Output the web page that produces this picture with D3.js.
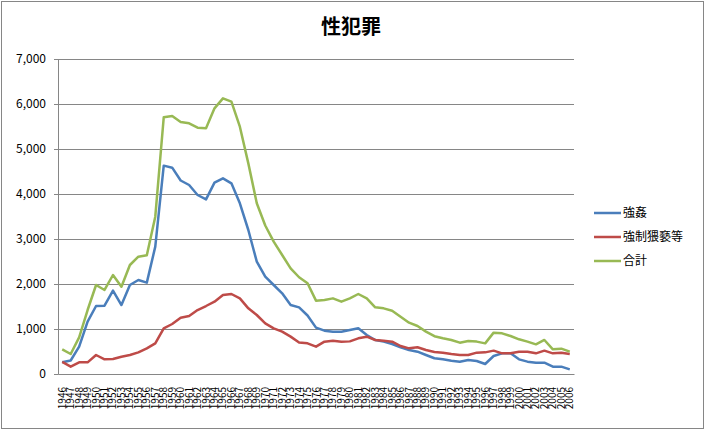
<!DOCTYPE html>
<html><head><meta charset="utf-8">
<script src="https://cdn.jsdelivr.net/npm/d3@7"></script>
<style>body{margin:0;background:#fff}svg{display:block}text{font-family:"Noto Sans CJK JP","DejaVu Sans",sans-serif}</style>
</head><body><svg id="c" width="706" height="431"></svg>
<script>
const years = d3.range(1946, 2007).map(String);
const rape = [260,300,607,1163,1511,1518,1852,1533,1978,2089,2030,2830,4630,4585,4300,4200,3978,3881,4252,4348,4237,3793,3200,2496,2163,1978,1793,1533,1480,1300,1030,963,941,941,978,1015,867,756,719,667,593,533,496,422,350,326,296,274,311,289,222,400,459,459,326,274,252,252,163,163,104];
const indecent = [270,163,259,259,422,326,333,385,422,481,570,681,1015,1111,1250,1289,1422,1511,1607,1756,1778,1681,1459,1311,1126,1015,941,830,700,681,607,719,740,719,725,793,830,756,740,719,622,570,593,533,490,474,444,422,422,474,481,519,459,459,496,496,459,519,459,474,444];
const total = [548,444,815,1422,1978,1867,2200,1940,2422,2607,2637,3496,5704,5733,5600,5570,5474,5460,5904,6126,6052,5496,4681,3793,3300,2941,2644,2348,2150,2015,1630,1644,1681,1607,1681,1778,1681,1481,1459,1407,1274,1141,1067,941,840,793,756,696,733,720,681,919,904,844,771,720,659,756,548,563,496];
const yTicks = [0,1000,2000,3000,4000,5000,6000,7000];
const seriesNames = ["強姦","強制猥褻等","合計"];
const colors = ["#4A7EBB","#BE4B48","#98B954"];
const seriesData = [rape, indecent, total];

const svg = d3.select("#c");
svg.append("rect").attr("x",1.5).attr("y",1.5).attr("width",702).attr("height",427)
  .attr("fill","#fff").attr("stroke","#868686").attr("stroke-width",1);

const L=58, R=574, T=59, B=374;
const x = d3.scaleBand().domain(years).range([L,R]);
const y = d3.scaleLinear().domain([0,7000]).range([B,T]);

svg.append("text").attr("x",351).attr("y",34).attr("text-anchor","middle")
  .attr("font-size",20).attr("font-weight","bold").text("性犯罪");

const grid = svg.append("g");
grid.selectAll("line").data(yTicks.slice(1)).join("line")
  .attr("x1",L).attr("x2",R).attr("y1",d=>Math.round(y(d))+0.5).attr("y2",d=>Math.round(y(d))+0.5)
  .attr("stroke","#868686").attr("stroke-width",1);

const ya = svg.append("g").attr("transform",`translate(${L},0)`)
  .call(d3.axisLeft(y).tickValues(yTicks).tickFormat(d3.format(",")).tickSize(4).tickPadding(8));
ya.select(".domain").attr("stroke","#868686");
ya.selectAll(".tick line").attr("stroke","#868686");
ya.selectAll("text").attr("font-size",12).attr("fill","#000").attr("font-family","DejaVu Sans, sans-serif");

const xa = svg.append("g").attr("transform",`translate(0,${B})`)
  .call(d3.axisBottom(x).tickSize(0).tickPadding(0));
xa.select(".domain").attr("stroke","#868686");
xa.selectAll(".tick text").attr("font-size",10).attr("fill","#000")
  .attr("font-family","DejaVu Sans, sans-serif")
  .attr("transform","rotate(-90)").attr("text-anchor","end").attr("dy","0.35em")
  .attr("x",-13).attr("y",0);

const line = d3.line().x((d,i)=>x(years[i])+x.bandwidth()/2).y(d=>y(d));
seriesData.forEach((s,k)=>{
  svg.append("path").datum(s).attr("d",line).attr("fill","none")
    .attr("stroke",colors[k]).attr("stroke-width",2.5).attr("stroke-linejoin","round");
});

const lg = svg.append("g");
seriesNames.forEach((n,k)=>{
  const yy = 213 + k*24;
  lg.append("line").attr("x1",594).attr("x2",621).attr("y1",yy).attr("y2",yy)
    .attr("stroke",colors[k]).attr("stroke-width",2.5);
  lg.append("text").attr("x",623).attr("y",yy).attr("dy","0.35em").attr("font-size",12).text(n);
});
</script></body></html>
